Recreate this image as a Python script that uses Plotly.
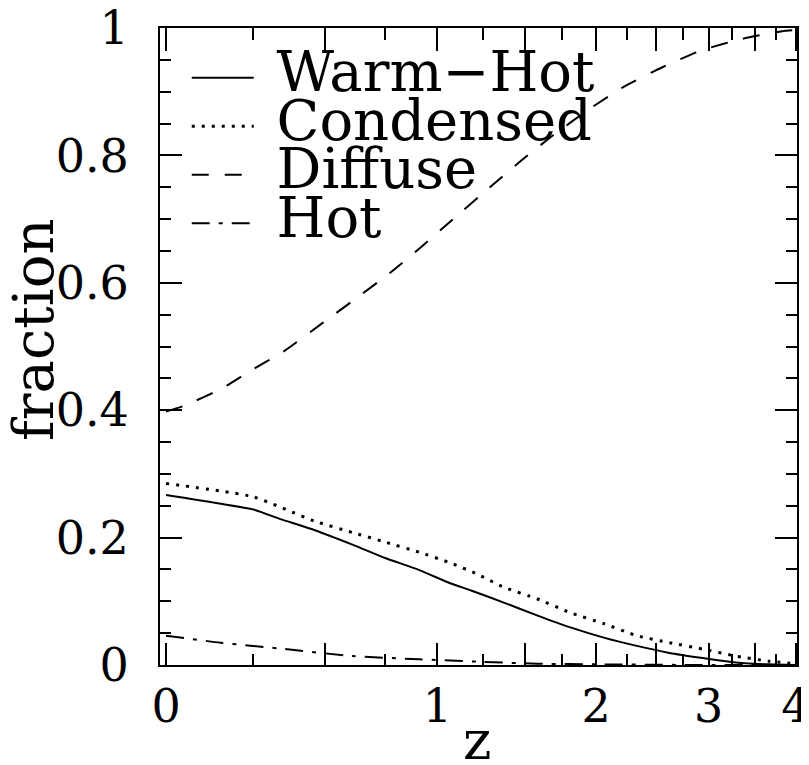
import math
import plotly.graph_objects as go

# ---- data (redshift z, fraction) ----
z_warmhot = [0.0, 0.25, 0.34, 0.46, 0.61, 0.75, 0.91, 1.07, 1.18, 1.37, 1.58, 1.81, 2.06, 2.33, 2.62, 2.94, 3.29, 3.66, 4.0]
f_warmhot = [0.267, 0.244, 0.229, 0.212, 0.189, 0.168, 0.149, 0.128, 0.117, 0.098, 0.078, 0.059, 0.043, 0.030, 0.019, 0.011, 0.004, 0.001, 0.0]

z_condensed = [0.0, 0.25, 0.46, 0.61, 0.75, 0.91, 1.07, 1.22, 1.37, 1.58, 1.81, 2.06, 2.33, 2.62, 2.94, 3.29, 3.66, 4.0]
f_condensed = [0.285, 0.264, 0.226, 0.208, 0.193, 0.177, 0.160, 0.142, 0.122, 0.104, 0.082, 0.065, 0.046, 0.035, 0.025, 0.014, 0.006, 0.002]

z_diffuse = [0.0, 0.047, 0.153, 0.235, 0.356, 0.482, 0.62, 0.77, 0.915, 1.082, 1.27, 1.469, 1.691, 1.95, 2.223, 2.549, 2.929, 3.359, 3.825, 4.0]
f_diffuse = [0.398, 0.407, 0.434, 0.460, 0.494, 0.534, 0.574, 0.615, 0.655, 0.700, 0.746, 0.790, 0.832, 0.873, 0.908, 0.938, 0.965, 0.983, 0.995, 0.997]

z_hot = [0.0, 0.15, 0.355, 0.61, 0.91, 1.24, 1.58, 2.03, 2.9, 4.0]
f_hot = [0.046, 0.035, 0.025, 0.014, 0.009, 0.005, 0.002, 0.001, 0.0, 0.0]

series_names = ["Warm\u2212Hot", "Condensed", "Diffuse", "Hot"]
major_z = [0, 0.5, 1, 1.5, 2, 2.5, 3, 3.5, 4]
labelled_z = [0, 1, 2, 3, 4]
minor_z = [0.25, 0.75, 1.25, 1.75, 2.25, 2.75, 3.25, 3.75]
x_title = "z"
y_title = "fraction"

FONT = "DejaVu Serif"
XR = [-0.0067, 0.7001]   # axis range in log10(1+z)


def lg(zs):
    """position on the log(1+z) redshift axis"""
    return [math.log10(1 + v) for v in zs]


fig = go.Figure()
styles = [
    dict(dash="solid", width=2),
    dict(dash="3px,7px", width=3),
    dict(dash="17px,16px", width=2),
    dict(dash="18px,9px,4px,9px", width=2),
]
for name, zs, fs, st in zip(series_names,
                            [z_warmhot, z_condensed, z_diffuse, z_hot],
                            [f_warmhot, f_condensed, f_diffuse, f_hot],
                            styles):
    fig.add_trace(go.Scatter(
        x=lg(zs), y=fs, mode="lines",
        name=f'<span style="font-size:56px">\u00a0{name}</span>',
        line=dict(color="black", shape="spline", smoothing=0.5, **st),
    ))

# empty traces to carry the extra tick-only axes
fig.add_trace(go.Scatter(x=[], y=[], xaxis="x2", yaxis="y2", showlegend=False, hoverinfo="skip"))
for ax in ["x3", "x4", "x5", "x6"]:
    fig.add_trace(go.Scatter(x=[], y=[], xaxis=ax, yaxis="y", showlegend=False, hoverinfo="skip"))

common = dict(showgrid=False, zeroline=False, ticks="inside", tickcolor="black",
              tickwidth=2, automargin=False, mirror="ticks")


def edge_axis(vals, length, side, pos):
    # tick-only x axis pinned to a frame edge; "outside" ticks point into the plot
    return dict(range=XR, overlaying="x", anchor="free", position=pos, side=side,
                showline=False, showgrid=False, zeroline=False, automargin=False,
                ticks="outside", ticklen=length, tickwidth=2, tickcolor="black",
                tickmode="array", tickvals=lg(vals), showticklabels=False)


fig.update_layout(
    width=801, height=757,
    margin=dict(l=152, r=12, t=20, b=100),
    paper_bgcolor="white", plot_bgcolor="white",
    font=dict(family=FONT, color="black", size=46),
    showlegend=True,
    legend=dict(x=0.042, y=0.968, xanchor="left", yanchor="top",
                bgcolor="rgba(0,0,0,0)", font=dict(family=FONT, size=35, color="black"),
                itemwidth=62, tracegroupgap=0),
    xaxis=dict(
        range=XR,
        showline=True, linecolor="black", linewidth=2,
        ticklen=22,
        tickmode="array", tickvals=lg(major_z),
        ticktext=[str(int(v)) if v in labelled_z else "" for v in major_z],
        tickfont=dict(family=FONT, size=46),
        ticklabeloverflow="allow",
        **common,
    ),
    xaxis2=dict(
        range=XR, overlaying="x", anchor="y", side="bottom",
        showline=False, ticklen=11,
        tickmode="array", tickvals=lg(minor_z), showticklabels=False,
        **common,
    ),
    xaxis3=edge_axis(major_z, 22, "top", 0),
    xaxis4=edge_axis(minor_z, 11, "top", 0),
    xaxis5=edge_axis(major_z, 22, "bottom", 1),
    xaxis6=edge_axis(minor_z, 11, "bottom", 1),
    yaxis=dict(
        range=[0, 1],
        showline=True, linecolor="black", linewidth=2,
        ticklen=22,
        tickmode="linear", tick0=0, dtick=0.2,
        tickfont=dict(family=FONT, size=46),
        ticklabeloverflow="allow",
        ticklabelstandoff=20,
        **common,
    ),
    yaxis2=dict(
        range=[0, 1], overlaying="y", anchor="x", side="left",
        showline=False, ticklen=11,
        tickmode="linear", tick0=0, dtick=0.05, showticklabels=False,
        **common,
    ),
    annotations=[
        dict(text=y_title, textangle=-90, xref="paper", yref="paper",
             x=0, y=0.526, xanchor="center", yanchor="middle", xshift=-126,
             showarrow=False, font=dict(family=FONT, size=56, color="black")),
        dict(text=x_title, xref="paper", yref="paper",
             x=0.4976, y=-0.118, xanchor="center", yanchor="middle",
             showarrow=False, font=dict(family=FONT, size=54, color="black")),
    ],
)

fig.write_html("out.html")
